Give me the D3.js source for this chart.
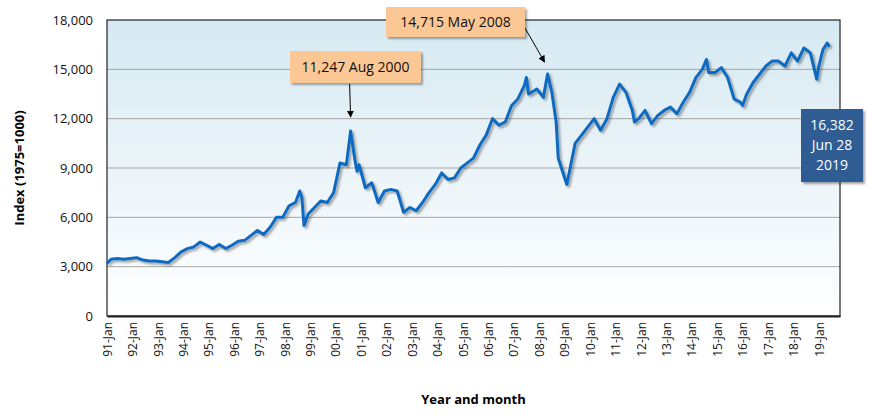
<!DOCTYPE html>
<html>
<head>
<meta charset="utf-8">
<script src="https://cdn.jsdelivr.net/npm/d3@7"></script>
<style>
  body { margin: 0; background: #fff; font-family: "Open Sans", sans-serif; }
</style>
</head>
<body>
<svg id="chart" width="870" height="415"></svg>
<script>
// index readings, month "YYYY-MM"
const dates = [
  "1991-01","1991-03","1991-06","1991-09","1991-12",
  "1992-03","1992-06","1992-09","1992-12",
  "1993-03","1993-06","1993-09","1993-12",
  "1994-03","1994-06","1994-09","1994-12",
  "1995-03","1995-06","1995-09","1995-12",
  "1996-03","1996-06","1996-09","1996-12",
  "1997-03","1997-06","1997-09","1997-12",
  "1998-03","1998-06","1998-08","1998-09","1998-10","1998-12",
  "1999-03","1999-06","1999-09","1999-12",
  "2000-03","2000-06","2000-08","2000-10","2000-11","2000-12",
  "2001-03","2001-06","2001-09","2001-12",
  "2002-03","2002-06","2002-09","2002-12",
  "2003-03","2003-06","2003-09","2003-12",
  "2004-03","2004-06","2004-09","2004-12",
  "2005-03","2005-06","2005-09","2005-12",
  "2006-03","2006-06","2006-09","2006-12",
  "2007-03","2007-06","2007-07","2007-08","2007-12",
  "2008-03","2008-05","2008-07","2008-09","2008-10","2008-12",
  "2009-02","2009-06","2009-09","2009-12",
  "2010-03","2010-06","2010-09","2010-12",
  "2011-03","2011-06","2011-09","2011-10","2011-12",
  "2012-03","2012-06","2012-09","2012-12",
  "2013-03","2013-06","2013-09","2013-12",
  "2014-03","2014-06","2014-08","2014-09","2014-12",
  "2015-03","2015-06","2015-09","2015-12",
  "2016-01","2016-03","2016-06","2016-09","2016-12",
  "2017-03","2017-06","2017-09","2017-12",
  "2018-03","2018-06","2018-09","2018-12",
  "2019-01","2019-03","2019-05","2019-06"
];
const values = [
  3200,3450,3500,3450,3500,
  3550,3400,3350,3350,
  3300,3250,3550,3900,
  4100,4200,4500,4300,
  4100,4350,4100,4300,
  4550,4600,4900,5200,
  4950,5400,6000,6000,
  6700,6900,7600,7200,5500,6200,
  6600,7000,6900,7500,
  9300,9200,11247,9500,8800,9200,
  7800,8100,6900,7600,
  7700,7600,6300,6600,
  6400,6900,7500,8000,
  8700,8300,8400,9000,
  9300,9600,10400,11000,
  12000,11600,11800,12800,
  13200,14000,14500,13500,13800,
  13300,14715,13600,11800,9600,8800,
  8000,10500,11000,11500,
  12000,11300,12000,13300,
  14100,13600,12500,11800,12000,
  12500,11700,12200,12500,
  12700,12300,13000,13600,
  14500,15000,15600,14800,14800,
  15100,14500,13200,13000,
  12800,13500,14200,14700,15200,
  15500,15500,15200,16000,
  15500,16300,16000,14400,
  15200,16200,16600,16382
];
const yTicks = [0, 3000, 6000, 9000, 12000, 15000, 18000];
const tickYears = d3.range(1991, 2020);

const svg = d3.select('#chart');
const plotLeft = 107, plotRight = 840, plotTop = 20, plotBottom = 316;
const parse = d3.timeParse('%Y-%m');
const data = dates.map((d, i) => ({ date: parse(d), value: values[i] }));

const x = d3.scaleTime()
    .domain([new Date(1991, 0, 1), new Date(2019, 10, 1)])
    .range([plotLeft, plotRight]);
const y = d3.scaleLinear().domain([0, 18000]).range([plotBottom, plotTop]);

const defs = svg.append('defs');
const grad = defs.append('linearGradient').attr('id', 'bg')
    .attr('x1', 0).attr('y1', 0).attr('x2', 0).attr('y2', 1);
grad.append('stop').attr('offset', '0%').attr('stop-color', '#d6e9f2');
grad.append('stop').attr('offset', '100%').attr('stop-color', '#ffffff');
const shadow = defs.append('filter').attr('id', 'shadow')
    .attr('x', '-10%').attr('y', '-10%').attr('width', '130%').attr('height', '130%');
shadow.append('feDropShadow').attr('dx', 2).attr('dy', 2).attr('stdDeviation', 1.2)
    .attr('flood-color', '#000').attr('flood-opacity', 0.35);
defs.append('marker').attr('id', 'arrow').attr('viewBox', '0 0 10 10')
    .attr('refX', 9).attr('refY', 5).attr('markerWidth', 7).attr('markerHeight', 7)
    .attr('orient', 'auto')
    .append('path').attr('d', 'M0,0L10,5L0,10z').attr('fill', '#000');

svg.append('rect').attr('x', plotLeft).attr('y', plotTop)
    .attr('width', plotRight - plotLeft).attr('height', plotBottom - plotTop)
    .attr('fill', 'url(#bg)');

// gridlines
svg.append('g').selectAll('line').data(yTicks.slice(1, -1)).join('line')
    .attr('x1', plotLeft).attr('x2', plotRight)
    .attr('y1', d => y(d)).attr('y2', d => y(d))
    .attr('stroke', '#a6a6a6').attr('stroke-width', 1);

svg.append('rect').attr('x', plotLeft).attr('y', plotTop)
    .attr('width', plotRight - plotLeft).attr('height', plotBottom - plotTop)
    .attr('fill', 'none').attr('stroke', '#222').attr('stroke-width', 1.2);

// y axis labels
svg.append('g').selectAll('text').data(yTicks).join('text')
    .attr('x', plotLeft - 14).attr('y', d => y(d)).attr('dy', '0.35em')
    .attr('text-anchor', 'end').attr('font-size', 13).attr('fill', '#111')
    .text(d => d3.format(',')(d));

// x axis
const xAxis = svg.append('g').attr('transform', `translate(0,${plotBottom})`)
    .call(d3.axisBottom(x)
        .tickValues(tickYears.map(yr => new Date(yr, 0, 1)))
        .tickFormat(d3.timeFormat('%y-%b'))
        .tickSize(0).tickPadding(6));
xAxis.select('.domain').attr('stroke', '#222').attr('stroke-width', 2);
xAxis.selectAll('text')
    .attr('transform', 'rotate(-90)')
    .attr('text-anchor', 'end')
    .attr('x', -6).attr('y', 0).attr('dy', '0.35em')
    .attr('font-size', 12).attr('font-family', '"Open Sans", sans-serif').attr('fill', '#111');

// axis titles
svg.append('text').attr('transform', `translate(24,${(plotTop + plotBottom) / 2}) rotate(-90)`)
    .attr('text-anchor', 'middle').attr('font-weight', 'bold').attr('font-size', 13)
    .text('Index (1975=1000)');
svg.append('text').attr('x', (plotLeft + plotRight) / 2).attr('y', 404)
    .attr('text-anchor', 'middle').attr('font-weight', 'bold').attr('font-size', 13)
    .text('Year and month');

// line
const line = d3.line().x(d => x(d.date)).y(d => y(d.value));
svg.append('path').datum(data)
    .attr('d', line).attr('fill', 'none')
    .attr('stroke', '#0f6ac0').attr('stroke-width', 3)
    .attr('stroke-linejoin', 'round')
    .attr('filter', 'url(#shadow)');

// annotations
function callout(bx, by, bw, bh, lines, fill, color) {
    svg.append('rect').attr('x', bx).attr('y', by).attr('width', bw).attr('height', bh)
        .attr('fill', fill).attr('filter', 'url(#shadow)');
    lines.forEach((t, i) => {
        svg.append('text').attr('x', bx + bw / 2)
            .attr('y', by + bh / 2 + (i - (lines.length - 1) / 2) * 20)
            .attr('dy', '0.35em').attr('text-anchor', 'middle')
            .attr('font-size', 14).attr('fill', color).text(t);
    });
}
const peak1 = data.find(d => d.value === 11247);
const peak2 = data.find(d => d.value === 14715);
const last = data[data.length - 1];

svg.append('line').attr('x1', x(peak1.date) - 1).attr('y1', 84)
    .attr('x2', x(peak1.date)).attr('y2', y(peak1.value) - 14)
    .attr('stroke', '#000').attr('marker-end', 'url(#arrow)');
svg.append('line').attr('x1', 525).attr('y1', 28)
    .attr('x2', x(peak2.date) - 3).attr('y2', y(peak2.value) - 12)
    .attr('stroke', '#000').attr('marker-end', 'url(#arrow)');
callout(290, 51, 131, 32, ['11,247 Aug 2000'], '#fbc795', '#111');
callout(386, 7, 139, 30, ['14,715 May 2008'], '#fbc795', '#111');
callout(801, 109, 62, 73, [d3.format(',')(last.value), 'Jun 28', '2019'], '#2f5c93', '#fff');
</script>
</body>
</html>
